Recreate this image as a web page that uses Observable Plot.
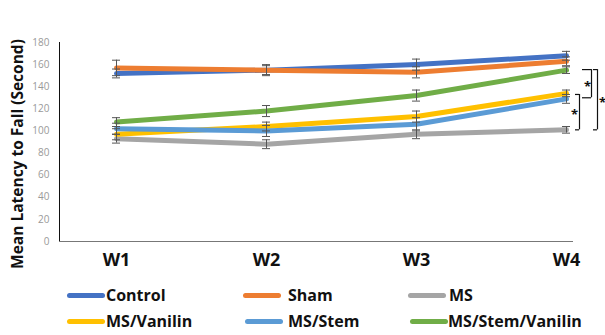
<!DOCTYPE html>
<html>
<head>
<meta charset="utf-8">
<script src="https://cdn.jsdelivr.net/npm/d3@7"></script>
<script src="https://cdn.jsdelivr.net/npm/@observablehq/plot@0.6"></script>
<style>
  html, body { margin: 0; padding: 0; background: #fff; }
  #wrap { width: 605px; height: 335px; position: relative; overflow: hidden; }
  #legend { position: relative; width: 605px; height: 56px; font-family: "Open Sans", sans-serif; font-weight: 700; font-size: 16px; color: #111; }
  .item { position: absolute; display: flex; align-items: center; white-space: nowrap; }
  .sw { width: 38px; height: 5px; border-radius: 3px; margin-right: 3px; }
</style>
</head>
<body>
<div id="wrap">
  <div id="chart"></div>
  <div id="legend"></div>
</div>
<script>
// ---- data ----
const weeks = ["W1", "W2", "W3", "W4"];
const groups = ["Control", "Sham", "MS", "MS/Vanilin", "MS/Stem", "MS/Stem/Vanilin"];
const colors = ["#4472C4", "#ED7D31", "#A5A5A5", "#FFC000", "#5B9BD5", "#70AD47"];
const control = [152, 155, 160, 168];
const sham = [157, 155, 153, 163];
const ms = [93, 88, 97, 101];
const msVanilin = [97, 104, 113, 134];
const msStem = [102, 100, 106, 129];
const msStemVanilin = [108, 118, 132, 155];
const errControl = [4, 4, 5, 4];
const errSham = [7, 5, 5, 4];
const errMs = [4, 4, 4, 3];
const errMsVanilin = [5, 4, 5, 3];
const errMsStem = [5, 5, 6, 4];
const errMsStemVanilin = [4, 5, 5, 3];
const yTicks = [0, 20, 40, 60, 80, 100, 120, 140, 160, 180];
const yTitle = "Mean Latency to Fall (Second)";
// significance brackets at W4: [top value, bottom value]
const brackets = [[155.5, 130], [155.5, 101], [133, 101]];
const bracketLabel = "*";

const seriesVals = [control, sham, ms, msVanilin, msStem, msStemVanilin];
const seriesErr = [errControl, errSham, errMs, errMsVanilin, errMsStem, errMsStemVanilin];
const rows = [];
groups.forEach((g, gi) => weeks.forEach((w, wi) => rows.push({
  group: g, week: w, x: wi + 1, y: seriesVals[gi][wi], e: seriesErr[gi][wi]
})));

const W = 605, H = 279;
const mL = 59, mR = 33, mT = 42, mB = H - 241;
const xDomain = [0.62, 4.04];
const xs = d3.scaleLinear(xDomain, [mL, W - mR]);
const u = px => xs.invert(mL + px) - xDomain[0]; // pixel offset in x units
const capU = u(4);

const last = weeks.length;
const bk = brackets.map(([t, b], i) => ({t, b, i}));
// bracket geometry: [vertical offset px, tick length px, star offset px]
const bkGeom = [[25, 9, 21], [31, 4, 36], [13, 4, 8]];

const font = "'Open Sans', sans-serif";

const chart = Plot.plot({
  width: W, height: H,
  marginLeft: mL, marginRight: mR, marginTop: mT, marginBottom: mB,
  style: {fontFamily: font, background: "#fff", overflow: "visible"},
  x: {type: "linear", domain: xDomain, axis: null},
  y: {domain: [0, 180], ticks: yTicks, axis: null},
  color: {domain: groups, range: colors},
  marks: [
    Plot.axisY({ticks: yTicks, tickSize: 0, tickPadding: 10, fill: "#999", fontSize: 10, label: null}),
    Plot.frame({anchor: "left", stroke: "#111"}),
    Plot.frame({anchor: "bottom", stroke: "#777"}),
    Plot.text([yTitle], {frameAnchor: "left", rotate: -90, textAnchor: "middle", dx: -41, dy: 12, fontSize: 15.5, fontWeight: 700, fill: "#111"}),
    Plot.text(weeks, {x: (d, i) => i + 1, y: 0, dy: 19, fontSize: 18, fontWeight: 700, fill: "#111"}),
    Plot.line(rows, {x: "x", y: "y", z: "group", stroke: "group", strokeWidth: 5, strokeLinecap: "round", strokeLinejoin: "round"}),
    Plot.ruleX(rows, {x: "x", y1: d => d.y - d.e, y2: d => d.y + d.e, stroke: "#555", strokeWidth: 1}),
    Plot.ruleY(rows, {y: d => d.y - d.e, x1: d => d.x - capU, x2: d => d.x + capU, stroke: "#555", strokeWidth: 1}),
    Plot.ruleY(rows, {y: d => d.y + d.e, x1: d => d.x - capU, x2: d => d.x + capU, stroke: "#555", strokeWidth: 1}),
    // brackets
    Plot.ruleX(bk, {x: d => last + u(bkGeom[d.i][0]), y1: "t", y2: "b", stroke: "#111", strokeWidth: 1.2}),
    Plot.ruleY(bk, {y: "t", x1: d => last + u(bkGeom[d.i][0] - bkGeom[d.i][1]), x2: d => last + u(bkGeom[d.i][0]), stroke: "#111", strokeWidth: 1.2}),
    Plot.ruleY(bk, {y: "b", x1: d => last + u(bkGeom[d.i][0] - bkGeom[d.i][1]), x2: d => last + u(bkGeom[d.i][0]), stroke: "#111", strokeWidth: 1.2}),
    Plot.text(bk, {x: d => last + u(bkGeom[d.i][2]), y: d => (d.t + d.b) / 2, text: () => bracketLabel, dy: 3, fontSize: 13, fontWeight: 700, fill: "#111"})
  ]
});
document.getElementById("chart").appendChild(chart);

// legend
const legendPos = [[67, 17], [243, 17], [408, 17], [67, 43], [245, 43], [410, 43]];
const gaps = [1, 7, 3, 1, 5, 0];
const leg = document.getElementById("legend");
groups.forEach((g, i) => {
  const it = document.createElement("div");
  it.className = "item";
  it.style.left = legendPos[i][0] + "px";
  it.style.top = (legendPos[i][1] - 12) + "px";
  const sw = document.createElement("div");
  sw.className = "sw";
  sw.style.background = colors[i];
  sw.style.marginRight = gaps[i] + "px";
  const tx = document.createElement("span");
  tx.textContent = g;
  it.appendChild(sw); it.appendChild(tx);
  leg.appendChild(it);
});
</script>
</body>
</html>
